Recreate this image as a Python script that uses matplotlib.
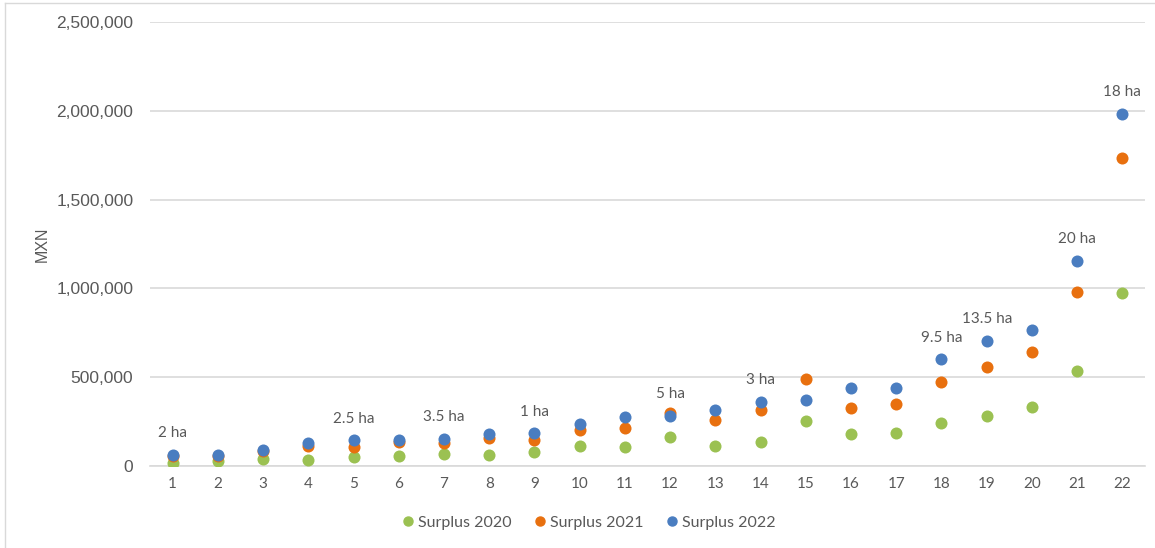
import numpy as np
import matplotlib
matplotlib.use("Agg")
import matplotlib.pyplot as plt
from matplotlib.ticker import FuncFormatter
from matplotlib.lines import Line2D

farms = list(range(1, 23))
surplus_2020 = [18000, 28000, 42000, 32000, 52000, 58000, 66000, 62000, 81000, 111000, 105000,
                163000, 111000, 133000, 253000, 178000, 188000, 244000, 283000, 332000, 535000, 972000]
surplus_2021 = [55000, 58000, 85000, 113000, 105000, 135000, 128000, 160000, 146000, 203000, 216000,
                300000, 259000, 317000, 492000, 328000, 347000, 475000, 557000, 640000, 982000, 1736000]
surplus_2022 = [62000, 62000, 90000, 131000, 145000, 148000, 154000, 178000, 184000, 236000, 274000,
                283000, 317000, 362000, 372000, 437000, 437000, 602000, 704000, 766000, 1154000, 1982000]
# hectare labels, keyed by farm number
area_labels = {1: "2 ha", 5: "2.5 ha", 7: "3.5 ha", 9: "1 ha", 12: "5 ha", 14: "3 ha",
               18: "9.5 ha", 19: "13.5 ha", 21: "20 ha", 22: "18 ha"}

green = '#9bc152'
orange = '#e8700f'
blue = '#4a7dc0'
grey_txt = '#595959'

fig = plt.figure(figsize=(11.55, 5.48), dpi=100)
ax = fig.add_axes([150/1155, 1 - 466/548, (1145 - 150)/1155, (466 - 22)/548])

ms = 75
ax.scatter(farms, surplus_2020, s=ms, color=green, zorder=3, linewidths=0)
ax.scatter(farms, surplus_2021, s=ms, color=orange, zorder=3, linewidths=0)
ax.scatter(farms, surplus_2022, s=ms, color=blue, zorder=3, linewidths=0)

for k, lab in area_labels.items():
    ax.annotate(lab, (k, surplus_2022[k - 1]), xytext=(0, 10.5), textcoords='offset points',
                ha='center', va='bottom', fontsize=11, color=grey_txt, family='Lato')

ax.set_xlim(0.5, 22.5)
ax.set_ylim(0, 2500000)
ax.set_xticks(farms)
ax.set_yticks(np.arange(0, 2500001, 500000))
ax.yaxis.set_major_formatter(FuncFormatter(lambda v, p: "{:,.0f}".format(v)))
ax.grid(axis='y', color='#d9d9d9', linewidth=1.2, zorder=0)
for s in ['top', 'right', 'left']:
    ax.spines[s].set_visible(False)
ax.spines['bottom'].set_color('#d9d9d9')
ax.spines['bottom'].set_linewidth(1.2)
ax.tick_params(axis='both', length=0)
ax.tick_params(axis='y', labelsize=12.5, labelcolor=grey_txt, pad=12)
ax.tick_params(axis='x', labelsize=11, labelcolor=grey_txt, pad=8)
for t in ax.get_xticklabels():
    t.set_family('Lato')
for t in ax.get_yticklabels():
    t.set_family('Liberation Sans')
ax.set_ylabel("MXN", fontsize=11.5, color=grey_txt, family='Liberation Sans', labelpad=5)

handles = [Line2D([], [], marker='o', ls='', color=c, markersize=6.5) for c in (green, orange, blue)]
fig.legend(handles, ["Surplus 2020", "Surplus 2021", "Surplus 2022"], loc='center',
           bbox_to_anchor=(588/1155, 1 - 523/548), ncol=3, frameon=False,
           prop={'family': 'Lato', 'size': 11.5}, labelcolor=grey_txt,
           handlelength=1.0, handletextpad=0.1, columnspacing=1.3)

# chart border
fig.add_artist(Line2D([5/1155, 5/1155], [0, 1 - 3/548], color='#d9d9d9', lw=1))
fig.add_artist(Line2D([5/1155, 1], [1 - 3/548, 1 - 3/548], color='#d9d9d9', lw=1))

fig.savefig("out.png", dpi=100)
